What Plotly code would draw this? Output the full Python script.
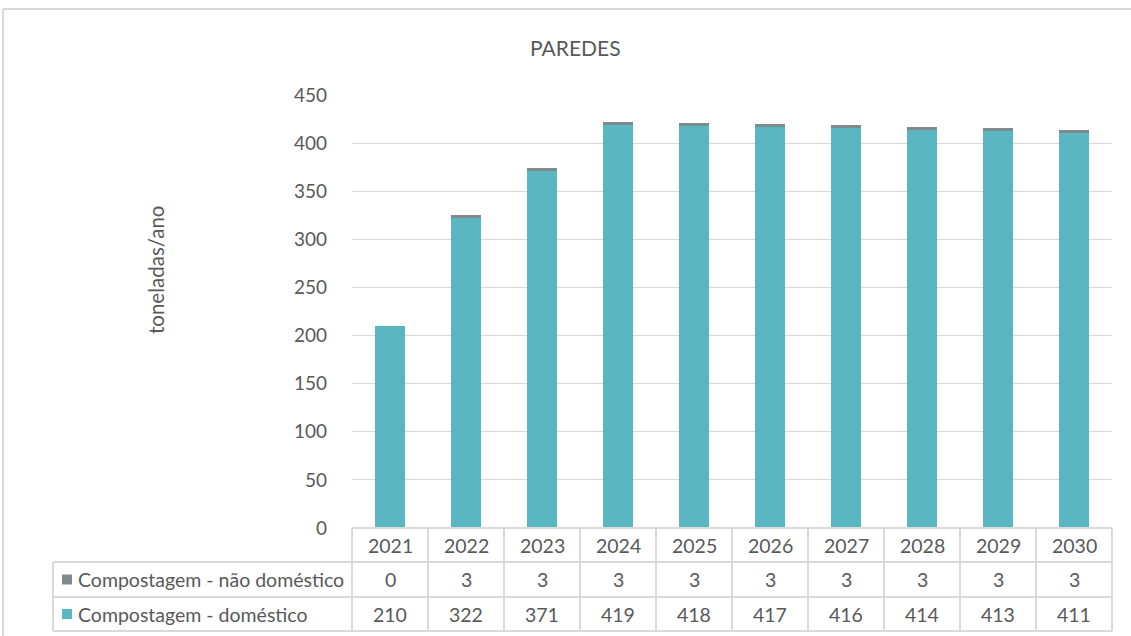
import plotly.graph_objects as go

# Annual composting of "paredes" waste (tonnes/year)
anos = ["2021", "2022", "2023", "2024", "2025", "2026", "2027", "2028", "2029", "2030"]
nao_domestico = [0, 3, 3, 3, 3, 3, 3, 3, 3, 3]
domestico = [210, 322, 371, 419, 418, 417, 416, 414, 413, 411]

serie_nomes = ["Compostagem - não doméstico", "Compostagem - doméstico"]
cor_domestico = "#5AB6C0"
cor_nao_domestico = "#7E8A8C"
cor_texto = "#595959"
cor_grelha = "#D9D9D9"
fonte = "Lato"

W, H = 1131, 636
ML, MR, MT, MB = 352, 19, 95, 108
plot_w = W - ML - MR
plot_h = H - MT - MB


def px(x):
    return (x - ML) / plot_w


def py(y):
    return (H - MB - y) / plot_h


fig = go.Figure()
fig.add_trace(go.Bar(x=anos, y=domestico, name=serie_nomes[1],
                     marker=dict(color=cor_domestico, line=dict(width=0))))
fig.add_trace(go.Bar(x=anos, y=nao_domestico, name=serie_nomes[0],
                     marker=dict(color=cor_nao_domestico, line=dict(width=0))))

shapes = []
annotations = []

# Outer chart frame
shapes.append(dict(type="line", xref="paper", yref="paper",
                   x0=px(3), x1=px(W + 5), y0=py(9), y1=py(9),
                   line=dict(color=cor_grelha, width=2)))
shapes.append(dict(type="line", xref="paper", yref="paper",
                   x0=px(3), x1=px(3), y0=py(9), y1=py(H + 5),
                   line=dict(color=cor_grelha, width=2)))

# Data table beneath the axis
row_y = [528, 562, 597, 631]
tab_left = 53
n = len(anos)
for i, y in enumerate(row_y):
    x0 = px(tab_left) if i >= 1 else 0
    shapes.append(dict(type="line", xref="paper", yref="paper",
                       x0=x0, x1=1, y0=py(y), y1=py(y),
                       line=dict(color=cor_grelha, width=2)))
for k in range(n + 1):
    shapes.append(dict(type="line", xref="paper", yref="paper",
                       x0=k / n, x1=k / n, y0=py(row_y[0]), y1=py(row_y[-1]),
                       line=dict(color=cor_grelha, width=2)))
shapes.append(dict(type="line", xref="paper", yref="paper",
                   x0=px(tab_left), x1=px(tab_left), y0=py(row_y[1]), y1=py(row_y[-1]),
                   line=dict(color=cor_grelha, width=2)))

tab_font = dict(family=fonte, size=19.5, color=cor_texto)

# Header row (years), one cell per category column
for i, a in enumerate(anos):
    annotations.append(dict(x=i, xref="x", y=py((row_y[0] + row_y[1]) / 2), yref="paper",
                            text=a, showarrow=False, xanchor="center", yanchor="middle",
                            font=tab_font))

linhas = [(serie_nomes[0], nao_domestico, cor_nao_domestico),
          (serie_nomes[1], domestico, cor_domestico)]
for r, (nome, valores, cor) in enumerate(linhas):
    yc = (row_y[r + 1] + row_y[r + 2]) / 2
    shapes.append(dict(type="rect", xref="paper", yref="paper",
                       x0=px(62), x1=px(72), y0=py(yc - 5), y1=py(yc + 5),
                       fillcolor=cor, line=dict(width=0)))
    annotations.append(dict(x=px(76), xref="paper", y=py(yc), yref="paper",
                            text=nome, showarrow=False, xanchor="left", yanchor="middle",
                            font=tab_font))
    for i, v in enumerate(valores):
        annotations.append(dict(x=i, xref="x", y=py(yc), yref="paper",
                                text=str(v), showarrow=False, xanchor="center", yanchor="middle",
                                font=tab_font))

# Title and axis title
annotations.append(dict(x=px(575), xref="paper", y=py(47), yref="paper",
                        text="PAREDES", showarrow=False, xanchor="center", yanchor="middle",
                        font=dict(family=fonte, size=21, color=cor_texto)))
annotations.append(dict(x=px(156), xref="paper", y=py(270), yref="paper",
                        text="toneladas/ano", textangle=-90, showarrow=False,
                        xanchor="center", yanchor="middle",
                        font=dict(family=fonte, size=20.5, color=cor_texto)))

fig.update_layout(
    width=W, height=H,
    margin=dict(l=ML, r=MR, t=MT, b=MB, pad=0),
    paper_bgcolor="white", plot_bgcolor="white",
    barmode="stack", bargap=0.6,
    showlegend=False,
    shapes=shapes, annotations=annotations,
    xaxis=dict(type="category", categoryorder="array", categoryarray=anos,
               range=[-0.5, n - 0.5], autorange=False,
               showticklabels=False, showgrid=False, zeroline=False, showline=False,
               ticks=""),
    yaxis=dict(range=[0, 450], autorange=False, dtick=50, showgrid=True,
               gridcolor=cor_grelha, gridwidth=1,
               zeroline=False, showline=False, ticks="", ticklabelstandoff=24,
               tickfont=dict(family=fonte, size=19, color=cor_texto)),
    font=dict(family=fonte, color=cor_texto),
)

fig.write_html("out.html")
